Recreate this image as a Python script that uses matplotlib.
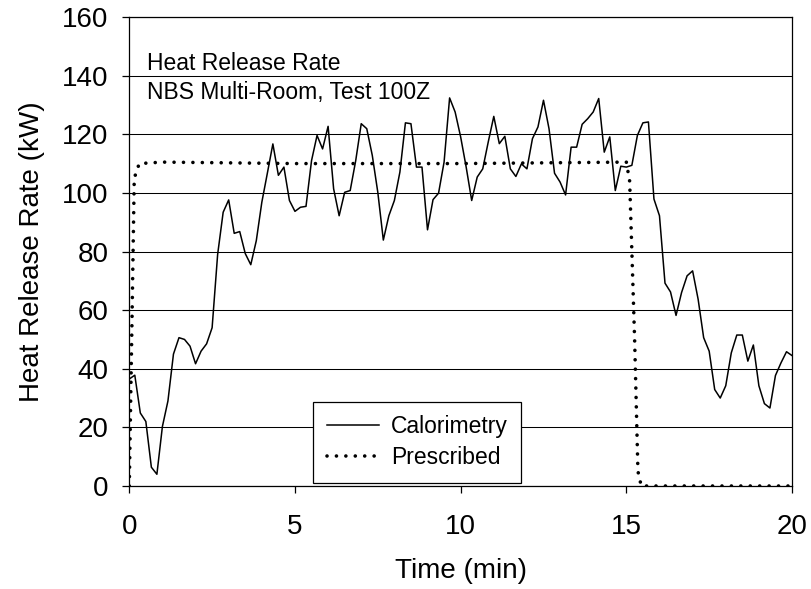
import matplotlib
matplotlib.use("Agg")
import matplotlib.pyplot as plt
import numpy as np

plt.rcParams['font.family'] = ['Liberation Sans', 'DejaVu Sans']

# Calorimetry, one reading every 10 s (kW)
calorimetry_kw = [
    36.5, 37.8, 24.9, 22.0, 6.4, 4.0, 20.3, 29.0, 45.0, 50.6,
    50.0, 47.7, 41.7, 46.0, 48.5, 54.0, 79.0, 93.4, 97.6, 86.2,
    86.8, 79.3, 75.5, 83.7, 96.8, 106.7, 116.7, 106.0, 108.8, 97.4,
    93.7, 95.1, 95.4, 111.0, 119.6, 115.0, 122.7, 101.4, 92.2, 100.2,
    100.8, 111.0, 123.6, 121.9, 112.8, 100.2, 83.9, 92.2, 97.4, 107.1,
    123.9, 123.6, 108.8, 108.8, 87.4, 97.7, 99.9, 110.5, 132.4, 127.6,
    119.1, 108.8, 97.4, 105.4, 108.2, 117.4, 126.1, 116.8, 119.3, 108.2,
    105.6, 109.9, 108.2, 118.5, 122.5, 131.6, 121.9, 106.7, 103.7, 99.3,
    115.6, 115.6, 123.4, 125.3, 127.6, 132.2, 113.9, 119.1, 100.8, 109.1,
    108.8, 109.4, 119.6, 123.9, 124.2, 97.9, 92.2, 69.2, 66.2, 58.2,
    66.0, 71.7, 73.4, 63.7, 50.6, 46.0, 32.9, 30.0, 34.2, 45.4,
    51.5, 51.5, 42.6, 48.1, 34.2, 28.1, 26.6, 37.7, 42.0, 45.8,
    44.5,
]
calorimetry_min = np.arange(len(calorimetry_kw)) / 6.0

# Prescribed fire
prescribed_min = [0.0, 0.08, 0.15, 0.3, 1.0, 5.0, 10.0, 15.0, 15.1, 15.25, 15.35, 15.45, 20.0]
prescribed_kw = [0.0, 55.0, 105.0, 110.0, 110.5, 110.0, 110.0, 110.5, 104.0, 50.0, 5.0, 0.0, 0.0]

fig = plt.figure(figsize=(8.11, 5.89), dpi=100)
ax = fig.add_axes([0.1594, 0.1749, 0.8172, 0.7962])

ax.plot(calorimetry_min, calorimetry_kw, color='black', lw=1.1, label='Calorimetry')
ax.plot(prescribed_min, prescribed_kw, color='black', lw=2.6,
        linestyle=(0, (0.01, 2.6)), dash_capstyle='round', label='Prescribed')

ax.set_xlim(0, 20)
ax.set_ylim(0, 160)
ax.set_xticks([0, 5, 10, 15, 20])
ax.set_yticks(np.arange(0, 161, 20))
ax.yaxis.grid(True, color='black', lw=0.75)
ax.set_axisbelow(True)
for s in ax.spines.values():
    s.set_color('black')
    s.set_linewidth(0.9)
ax.tick_params(axis='both', direction='out', labelsize=20, width=0.9, length=5)
ax.tick_params(axis='y', pad=10)
ax.tick_params(axis='x', pad=15)

ax.set_xlabel('Time (min)', fontsize=20, labelpad=13)
ax.set_ylabel('Heat Release Rate (kW)', fontsize=20, labelpad=12)

ax.text(0.53, 142, 'Heat Release Rate', fontsize=16.5, va='baseline')
ax.text(0.53, 132, 'NBS Multi-Room, Test 100Z', fontsize=16.5, va='baseline')

leg = ax.legend(loc='lower left', bbox_to_anchor=(0.277, 0.006), fontsize=16.5,
                frameon=True, fancybox=False, edgecolor='black', framealpha=1,
                handlelength=2.3, handletextpad=0.5, labelspacing=0.35,
                borderpad=0.6, borderaxespad=0)
leg.get_frame().set_linewidth(0.9)

fig.savefig('out.png', dpi=100)
